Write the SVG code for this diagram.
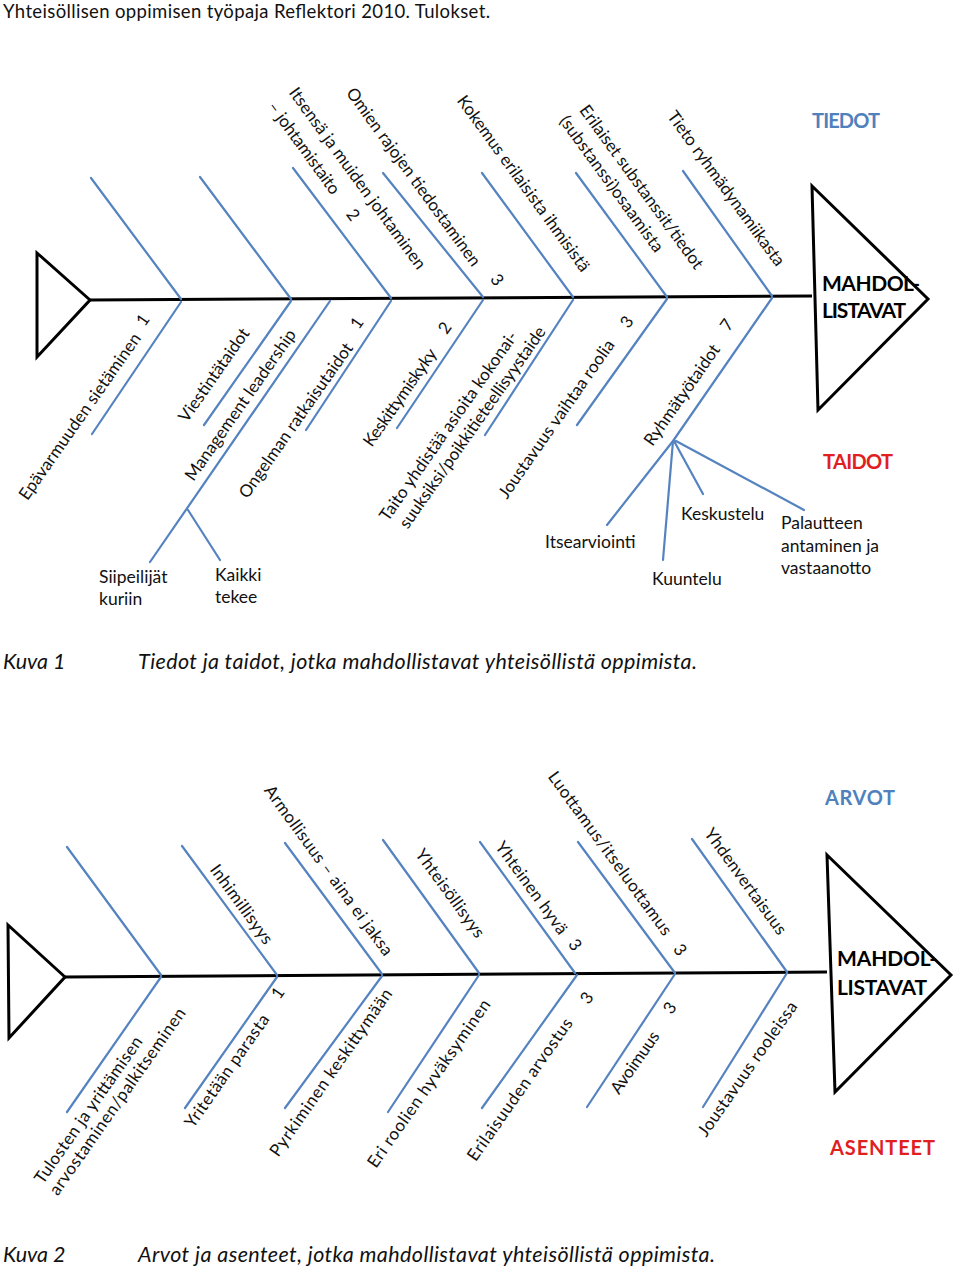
<svg xmlns="http://www.w3.org/2000/svg" width="960" height="1267" viewBox="0 0 960 1267">
<style>
text{font-family:Lato,"Open Sans","Liberation Sans",sans-serif;fill:#111}
.lbl{font-size:17px}
.sub{font-size:17.5px}
.cap{font-size:21.5px;font-style:italic}
.ttl{font-size:18.5px}
.hd{font-size:21px;font-weight:bold;fill:#000}
.blue{font-size:20px;font-weight:bold;fill:#4f81bd}
.red{font-size:20px;font-weight:bold;fill:#e0201f}
.bone{stroke:#5583bf;stroke-width:2.2;fill:none;stroke-linecap:round}
.spine{stroke:#000;stroke-width:3;fill:none}
.tri{stroke:#000;stroke-width:3;fill:#fff;stroke-linejoin:miter}
</style>
<rect width="960" height="1267" fill="#fff"/>
<text class="ttl" x="3" y="18" textLength="487">Yhteisöllisen oppimisen työpaja Reflektori 2010. Tulokset.</text>

<!-- ===== Diagram 1 ===== -->
<g id="connectors1">
<path class="spine" d="M90 300 L812 296"/>
<path class="bone" d="M91 178 L181 299 M200 177 L291 299 M293 168 L391 298 M383 173 L483 297 M482 173 L573 297 M576 173 L667 297 M683 171 L772 296"/>
<path class="bone" d="M181 302 L92 434 M291 301 L204 425 M330 301 L150 562 M391 301 L306 430 M483 300 L397 428 M573 300 L485 435 M667 299 L577 425 M772 298 L673 441 L607 525"/>
<path class="bone" d="M188 510 L220 560 M673 441 L663 560 M674 441 L703 494 M676 441 L804 510"/>
</g>
<g id="tail1"><path class="tri" d="M37 253 L90 300 L37 357 Z"/></g>
<g id="head1">
<path class="tri" d="M812 186 L928 299 L818 410 Z"/>
<text class="hd" x="822" y="291" textLength="98">MAHDOL-</text>
<text class="hd" x="822" y="318" textLength="84">LISTAVAT</text>
</g>
<g id="tiedot"><text class="blue" x="812" y="128" textLength="68">TIEDOT</text></g>
<g id="taidot"><text class="red" x="823" y="469" textLength="70">TAIDOT</text></g>

<g id="upper1">
<text class="lbl" transform="translate(357.5 178.5) rotate(54)" text-anchor="middle" dy=".33em" textLength="220">Itsensä ja muiden johtaminen</text>
<text class="lbl" transform="translate(304 148) rotate(54)" text-anchor="middle" dy=".33em" textLength="110">– johtamistaito</text>
<text class="lbl" transform="translate(353 215) rotate(54)" text-anchor="middle" dy=".33em">2</text>
<text class="lbl" transform="translate(413.5 177) rotate(54)" text-anchor="middle" dy=".33em" textLength="216">Omien rajojen tiedostaminen</text>
<text class="lbl" transform="translate(497 280) rotate(54)" text-anchor="middle" dy=".33em">3</text>
<text class="lbl" transform="translate(523.5 183.5) rotate(54)" text-anchor="middle" dy=".33em" textLength="213">Kokemus erilaisista ihmisistä</text>
<text class="lbl" transform="translate(641.5 187) rotate(54)" text-anchor="middle" dy=".33em" textLength="198">Erilaiset substanssit/tiedot</text>
<text class="lbl" transform="translate(611.5 184) rotate(54)" text-anchor="middle" dy=".33em" textLength="164">(substanssi)osaamista</text>
<text class="lbl" transform="translate(726 188.5) rotate(54)" text-anchor="middle" dy=".33em" textLength="187">Tieto ryhmädynamiikasta</text>
</g>

<g id="lower1">
<text class="lbl" transform="translate(80 416.5) rotate(-55)" text-anchor="middle" dy=".33em" textLength="199">Epävarmuuden sietäminen</text>
<text class="lbl" transform="translate(143 320) rotate(-55)" text-anchor="middle" dy=".33em">1</text>
<text class="lbl" transform="translate(214 375) rotate(-55)" text-anchor="middle" dy=".33em" textLength="110">Viestintätaidot</text>
<text class="lbl" transform="translate(240.5 405) rotate(-55)" text-anchor="middle" dy=".33em" textLength="180">Management leadership</text>
<text class="lbl" transform="translate(296 420.5) rotate(-55)" text-anchor="middle" dy=".33em" textLength="185">Ongelman ratkaisutaidot</text>
<text class="lbl" transform="translate(357 323) rotate(-55)" text-anchor="middle" dy=".33em">1</text>
<text class="lbl" transform="translate(400 397.5) rotate(-55)" text-anchor="middle" dy=".33em" textLength="115">Keskittymiskyky</text>
<text class="lbl" transform="translate(445 328) rotate(-55)" text-anchor="middle" dy=".33em">2</text>
<text class="lbl" transform="translate(448.5 426) rotate(-55)" text-anchor="middle" dy=".33em" textLength="227">Taito yhdistää asioita  kokonai-</text>
<text class="lbl" transform="translate(472.5 427.5) rotate(-55)" text-anchor="middle" dy=".33em" textLength="242">suuksiksi/poikkitieteellisyystaide</text>
<text class="lbl" transform="translate(556.5 419) rotate(-55)" text-anchor="middle" dy=".33em" textLength="189">Joustavuus vaihtaa roolia</text>
<text class="lbl" transform="translate(627 322) rotate(-55)" text-anchor="middle" dy=".33em">3</text>
<text class="lbl" transform="translate(682 395) rotate(-55)" text-anchor="middle" dy=".33em" textLength="119">Ryhmätyötaidot</text>
<text class="lbl" transform="translate(727 325) rotate(-55)" text-anchor="middle" dy=".33em">7</text>
</g>

<g id="sub1">
<text class="sub" x="99" y="583">Siipeilijät</text>
<text class="sub" x="99" y="605">kuriin</text>
<text class="sub" x="215" y="581">Kaikki</text>
<text class="sub" x="215" y="603">tekee</text>
<text class="sub" x="545" y="548">Itsearviointi</text>
<text class="sub" x="652" y="585">Kuuntelu</text>
<text class="sub" x="681" y="520">Keskustelu</text>
<text class="sub" x="781" y="529">Palautteen</text>
<text class="sub" x="781" y="552">antaminen ja</text>
<text class="sub" x="781" y="574">vastaanotto</text>
</g>

<g id="caption1">
<text class="cap" x="3" y="669">Kuva 1</text>
<text class="cap" x="138" y="669" textLength="559">Tiedot ja taidot, jotka mahdollistavat yhteisöllistä oppimista.</text>
</g>

<!-- ===== Diagram 2 ===== -->
<g id="connectors2">
<path class="spine" d="M65 977 L827 972"/>
<path class="bone" d="M67 847 L161 975 M182 846 L277 975 M285 843 L382 974 M383 840 L479 973 M480 842 L575 973 M578 842 L675 973 M692 839 L787 972"/>
<path class="bone" d="M161 977 L67 1112 M277 977 L185 1108 M382 976 L285 1108 M479 975 L388 1112 M577 975 L482 1108 M675 974 L587 1107 M787 973 L703 1107"/>
</g>
<g id="tail2"><path class="tri" d="M8 925 L65 977 L9 1038 Z"/></g>
<g id="head2">
<path class="tri" d="M827 855 L951 975 L835 1092 Z"/>
<text class="hd" x="837" y="966" textLength="100">MAHDOL-</text>
<text class="hd" x="837" y="995" textLength="90">LISTAVAT</text>
</g>
<g id="arvot"><text class="blue" x="825" y="805" textLength="70">ARVOT</text></g>
<g id="asenteet"><text class="red" x="830" y="1155" textLength="105">ASENTEET</text></g>

<g id="upper2">
<text class="lbl" transform="translate(241.5 904.5) rotate(54)" text-anchor="middle" dy=".33em" textLength="94">Inhimillisyys</text>
<text class="lbl" transform="translate(328.5 870.5) rotate(54)" text-anchor="middle" dy=".33em" textLength="206">Armollisuus – aina ei jaksa</text>
<text class="lbl" transform="translate(450 893.5) rotate(54)" text-anchor="middle" dy=".33em" textLength="105">Yhteisöllisyys</text>
<text class="lbl" transform="translate(531.5 888) rotate(54)" text-anchor="middle" dy=".33em" textLength="110">Yhteinen hyvä</text>
<text class="lbl" transform="translate(575 945) rotate(54)" text-anchor="middle" dy=".33em">3</text>
<text class="lbl" transform="translate(610 853.5) rotate(54)" text-anchor="middle" dy=".33em" textLength="198">Luottamus/itseluottamus</text>
<text class="lbl" transform="translate(680 950) rotate(54)" text-anchor="middle" dy=".33em">3</text>
<text class="lbl" transform="translate(745.5 881.5) rotate(54)" text-anchor="middle" dy=".33em" textLength="127">Yhdenvertaisuus</text>
</g>

<g id="lower2">
<text class="lbl" transform="translate(88.5 1110) rotate(-55)" text-anchor="middle" dy=".33em" textLength="175">Tulosten ja yrittämisen</text>
<text class="lbl" transform="translate(117.5 1101.5) rotate(-55)" text-anchor="middle" dy=".33em" textLength="224">arvostaminen/palkitseminen</text>
<text class="lbl" transform="translate(227 1071) rotate(-55)" text-anchor="middle" dy=".33em" textLength="134">Yritetään parasta</text>
<text class="lbl" transform="translate(278 993) rotate(-55)" text-anchor="middle" dy=".33em">1</text>
<text class="lbl" transform="translate(331 1072.5) rotate(-55)" text-anchor="middle" dy=".33em" textLength="200">Pyrkiminen keskittymään</text>
<text class="lbl" transform="translate(429 1083.5) rotate(-55)" text-anchor="middle" dy=".33em" textLength="201">Eri roolien hyväksyminen</text>
<text class="lbl" transform="translate(520 1089.5) rotate(-55)" text-anchor="middle" dy=".33em" textLength="170">Erilaisuuden arvostus</text>
<text class="lbl" transform="translate(587 998) rotate(-55)" text-anchor="middle" dy=".33em">3</text>
<text class="lbl" transform="translate(635 1062.5) rotate(-55)" text-anchor="middle" dy=".33em" textLength="72">Avoimuus</text>
<text class="lbl" transform="translate(670 1008) rotate(-55)" text-anchor="middle" dy=".33em">3</text>
<text class="lbl" transform="translate(747.5 1069) rotate(-55)" text-anchor="middle" dy=".33em" textLength="160">Joustavuus rooleissa</text>
</g>

<g id="caption2">
<text class="cap" x="3" y="1262">Kuva 2</text>
<text class="cap" x="138" y="1262" textLength="577">Arvot ja asenteet, jotka mahdollistavat yhteisöllistä oppimista.</text>
</g>
</svg>
